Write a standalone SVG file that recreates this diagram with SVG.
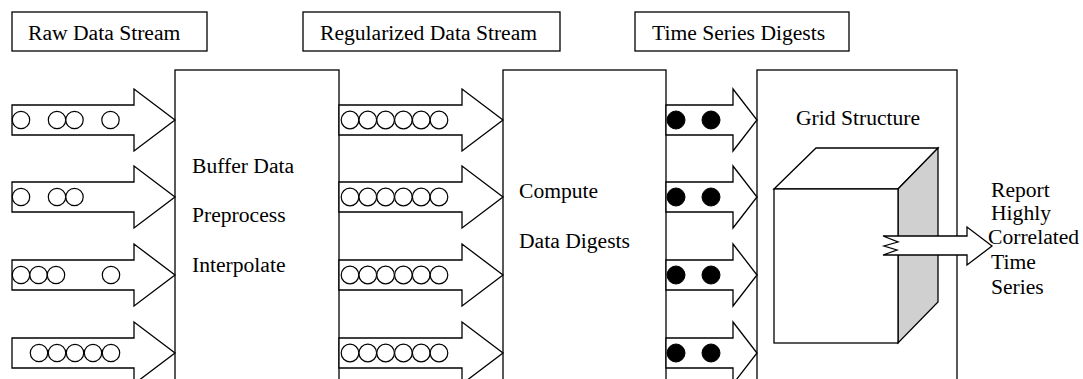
<svg xmlns="http://www.w3.org/2000/svg" width="1083" height="379" viewBox="0 0 1083 379">
<style>
.box{fill:#fff;stroke:#000;stroke-width:1.3}
.arr{fill:#fff;stroke:#000;stroke-width:1.3;stroke-linejoin:miter}
.dot{fill:#fff;stroke:#000;stroke-width:1.2}
.bdot{fill:#000;stroke:#000;stroke-width:1}
text{font-family:'Liberation Serif',serif;font-size:21.6px;fill:#000}
</style>
<rect width="1083" height="379" fill="#fff"/>
<g id="label-raw"><rect class="box" x="12" y="12" width="195" height="39"/><text x="28" y="40">Raw Data Stream</text></g>
<g id="label-regularized"><rect class="box" x="303" y="12" width="257" height="39"/><text x="320" y="40">Regularized Data Stream</text></g>
<g id="label-digests"><rect class="box" x="635" y="12" width="214" height="39"/><text x="652" y="40">Time Series Digests</text></g>
<g id="node-preprocess"><rect class="box" x="175" y="70" width="164" height="340"/>
<text x="192" y="173">Buffer Data</text><text x="192" y="222">Preprocess</text><text x="192" y="272">Interpolate</text></g>
<g id="node-compute"><rect class="box" x="503" y="70" width="163" height="340"/>
<text x="519" y="198">Compute</text><text x="519" y="248">Data Digests</text></g>
<g id="node-grid"><rect class="box" x="757" y="70" width="200" height="340"/>
<text x="796" y="125">Grid Structure</text>
<polygon class="box" points="774,189 816,148 938,148 898,189"/>
<polygon class="box" points="898,189 938,148 938,302 898,343" style="fill:#d0d0d0"/>
<rect class="box" x="774" y="189" width="124" height="154"/>
</g>
<g id="connectors">
<g id="in-1"><path class="arr" d="M12,105H134V89L175,120L134,151V135H12Z"/>
<circle class="dot" cx="21" cy="120" r="8.7"/><circle class="dot" cx="57" cy="120" r="8.7"/><circle class="dot" cx="74.5" cy="120" r="8.7"/><circle class="dot" cx="110.5" cy="120" r="8.7"/></g>
<g id="in-2"><path class="arr" d="M12,182H134V166L175,197L134,228V212H12Z"/>
<circle class="dot" cx="21" cy="197" r="8.7"/><circle class="dot" cx="57" cy="197" r="8.7"/><circle class="dot" cx="74.5" cy="197" r="8.7"/></g>
<g id="in-3"><path class="arr" d="M12,260H134V244L175,275L134,306V290H12Z"/>
<circle class="dot" cx="21" cy="275" r="8.7"/><circle class="dot" cx="38.5" cy="275" r="8.7"/><circle class="dot" cx="56" cy="275" r="8.7"/><circle class="dot" cx="111" cy="275" r="8.7"/></g>
<g id="in-4"><path class="arr" d="M12,338H134V322L175,353L134,384V368H12Z"/>
<circle class="dot" cx="39" cy="353" r="8.7"/><circle class="dot" cx="57" cy="353" r="8.7"/><circle class="dot" cx="75" cy="353" r="8.7"/><circle class="dot" cx="93" cy="353" r="8.7"/><circle class="dot" cx="111" cy="353" r="8.7"/></g>
<g id="mid-1"><path class="arr" d="M339,105H462V89L503,120L462,151V135H339Z"/>
<circle class="dot" cx="350" cy="120" r="8.8"/><circle class="dot" cx="367.8" cy="120" r="8.8"/><circle class="dot" cx="385.6" cy="120" r="8.8"/><circle class="dot" cx="403.4" cy="120" r="8.8"/><circle class="dot" cx="421.2" cy="120" r="8.8"/><circle class="dot" cx="439" cy="120" r="8.8"/></g>
<g id="mid-2"><path class="arr" d="M339,182H462V166L503,197L462,228V212H339Z"/>
<circle class="dot" cx="350" cy="197" r="8.8"/><circle class="dot" cx="367.8" cy="197" r="8.8"/><circle class="dot" cx="385.6" cy="197" r="8.8"/><circle class="dot" cx="403.4" cy="197" r="8.8"/><circle class="dot" cx="421.2" cy="197" r="8.8"/><circle class="dot" cx="439" cy="197" r="8.8"/></g>
<g id="mid-3"><path class="arr" d="M339,260H462V244L503,275L462,306V290H339Z"/>
<circle class="dot" cx="350" cy="275" r="8.8"/><circle class="dot" cx="367.8" cy="275" r="8.8"/><circle class="dot" cx="385.6" cy="275" r="8.8"/><circle class="dot" cx="403.4" cy="275" r="8.8"/><circle class="dot" cx="421.2" cy="275" r="8.8"/><circle class="dot" cx="439" cy="275" r="8.8"/></g>
<g id="mid-4"><path class="arr" d="M339,338H462V322L503,353L462,384V368H339Z"/>
<circle class="dot" cx="350" cy="353" r="8.8"/><circle class="dot" cx="367.8" cy="353" r="8.8"/><circle class="dot" cx="385.6" cy="353" r="8.8"/><circle class="dot" cx="403.4" cy="353" r="8.8"/><circle class="dot" cx="421.2" cy="353" r="8.8"/><circle class="dot" cx="439" cy="353" r="8.8"/></g>
<g id="out-1"><path class="arr" d="M666,105H733V89L757,120L733,151V135H666Z"/>
<circle class="bdot" cx="676" cy="120" r="9"/><circle class="bdot" cx="711" cy="120" r="9"/></g>
<g id="out-2"><path class="arr" d="M666,182H733V166L757,197L733,228V212H666Z"/>
<circle class="bdot" cx="676" cy="197" r="9"/><circle class="bdot" cx="711" cy="197" r="9"/></g>
<g id="out-3"><path class="arr" d="M666,260H733V244L757,275L733,306V290H666Z"/>
<circle class="bdot" cx="676" cy="275" r="9"/><circle class="bdot" cx="711" cy="275" r="9"/></g>
<g id="out-4"><path class="arr" d="M666,338H733V322L757,353L733,384V368H666Z"/>
<circle class="bdot" cx="676" cy="353" r="9"/><circle class="bdot" cx="711" cy="353" r="9"/></g>
<g id="report-arrow"><path class="arr" d="M883,236H967V227L992,246L967,265V255H883L897,250L884,246L898,242Z"/></g>
</g>
<g id="node-report"><text><tspan x="991" y="197">Report</tspan><tspan x="991" y="220">Highly</tspan><tspan x="988" y="244">Correlated</tspan><tspan x="991" y="269">Time</tspan><tspan x="991" y="294">Series</tspan></text></g>
</svg>
